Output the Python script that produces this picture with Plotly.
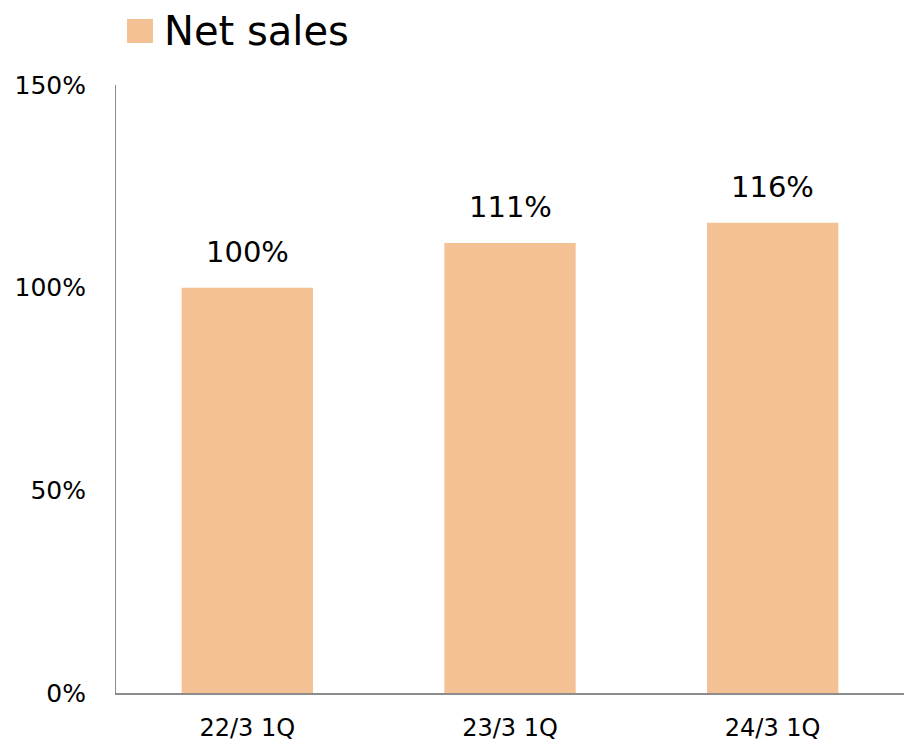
import plotly.graph_objects as go

categories = ["22/3 1Q", "23/3 1Q", "24/3 1Q"]
net_sales_pct = [100, 111, 116]
y_tick_values = [0, 50, 100, 150]
y_tick_labels = ["0%", "50%", "100%", "150%"]
series_name = "Net sales"
bar_color = "#F4C195"
font_family = "DejaVu Sans, Verdana, sans-serif"

fig = go.Figure()
fig.add_trace(go.Bar(
    x=categories, y=net_sales_pct, name=series_name,
    marker=dict(color=bar_color, line=dict(width=0)),
    width=0.5, showlegend=False,
))

for c, v in zip(categories, net_sales_pct):
    fig.add_annotation(x=c, y=v, text=f"{v}%", showarrow=False,
                       yanchor="bottom", yshift=17,
                       font=dict(size=29, color="#000000", family=font_family))

# legend as swatch + text
fig.add_shape(type="rect", xref="paper", yref="paper",
              x0=(127-116)/788, x1=(153-116)/788,
              y0=(693-43)/608, y1=(693-19)/608,
              fillcolor=bar_color, line=dict(width=0))
fig.add_annotation(xref="paper", yref="paper", x=(162-116)/788, y=(693-31)/608,
                   text=series_name, showarrow=False, xanchor="left", yanchor="middle",
                   font=dict(size=40, color="#000000", family=font_family))

fig.update_layout(
    width=905, height=750,
    margin=dict(l=116, r=1, t=85, b=57),
    paper_bgcolor="white", plot_bgcolor="white",
    font=dict(family=font_family, color="#000000"),
    bargap=0.5,
)
fig.update_xaxes(showline=True, linecolor="#8c8c8c", linewidth=1.5,
                 showgrid=False, ticks="", tickfont=dict(size=24),
                 ticklabelstandoff=12)
fig.update_yaxes(range=[0, 150], tickvals=y_tick_values, ticktext=y_tick_labels,
                 showline=True, linecolor="#8c8c8c", linewidth=1,
                 showgrid=False, zeroline=False, ticks="", tickfont=dict(size=25),
                 ticklabelstandoff=24)

fig.write_html("out.html", config={"displayModeBar": False},
               post_script="document.body.style.margin='0';document.body.style.overflow='hidden';")
